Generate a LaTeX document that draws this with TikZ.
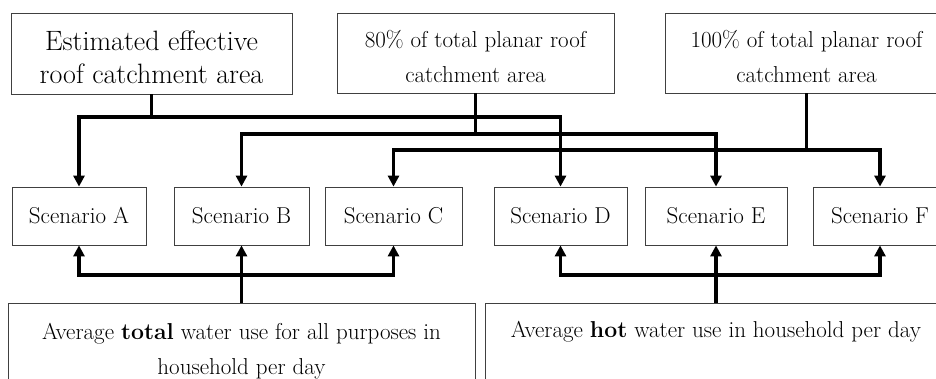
\documentclass[tikz,border=0pt]{standalone}
\usetikzlibrary{arrows.meta}
\begin{document}
\begin{tikzpicture}[x=1pt,y=-1pt,
  frame/.style={draw=black!75, line width=0.8pt, inner sep=0pt, rectangle},
  txt/.style={inner sep=0pt, align=center, font=\fontsize{23}{35}\selectfont},
  bigtxt/.style={inner sep=0pt, align=center, font=\fontsize{28}{33}\selectfont},
  conn/.style={line width=3.5pt, line join=miter},
  arr/.style={conn, -{Triangle[width=11pt,length=11pt]}}]
\path[use as bounding box] (0,0) rectangle (936,378);
\clip (0,0) rectangle (936,378);
% top boxes
\node[frame, minimum width=281pt, minimum height=81pt] (t1) at (151.5,53.5) {};
\node[frame, minimum width=277pt, minimum height=80pt] (t2) at (475.5,53) {};
\node[frame, minimum width=283pt, minimum height=80pt] (t3) at (806.5,53) {};
\node[bigtxt, anchor=north] (t1txt) at (151.5,30.8) {Estimated effective\\roof catchment area};
\node[txt, anchor=north] (t2txt) at (475.5,29.8) {80\% of total planar roof\\catchment area};
\node[txt, anchor=north] (t3txt) at (806.5,29.8) {100\% of total planar roof\\catchment area};
% scenarios
\node[frame, txt, minimum width=134pt, minimum height=58pt] (A) at (79,216) {Scenario A};
\node[frame, txt, minimum width=135pt, minimum height=58pt] (B) at (241.5,216) {Scenario B};
\node[frame, txt, minimum width=137pt, minimum height=58pt] (C) at (393.5,216) {Scenario C};
\node[frame, txt, minimum width=133pt, minimum height=58pt] (D) at (560.5,216) {Scenario D};
\node[frame, txt, minimum width=142pt, minimum height=58pt] (E) at (716,216) {Scenario E};
\node[frame, txt, minimum width=134pt, minimum height=58pt] (F) at (880,216) {Scenario F};
% bottom boxes
\node[frame, minimum width=467pt, minimum height=107pt] (L) at (241.5,356.5) {};
\node[frame, minimum width=462pt, minimum height=107pt] (R) at (716,356.5) {};
\node[txt, anchor=north] (Ltxt) at (241.5,323) {Average \textbf{total} water use for all purposes in\\household per day};
\node[txt, anchor=north] (Rtxt) at (716,321) {Average \textbf{hot} water use in household per day};
% top connectors
\coordinate (j1) at (151.5,117);
\coordinate (j2) at (475.5,134);
\coordinate (j3) at (806.5,150);
\draw[conn] (t1.south) -- (j1);
\draw[arr] (j1) -| (A.north);
\draw[arr] (j1) -| (D.north);
\draw[conn] (t2.south) -- (j2);
\draw[arr] (j2) -| (B.north);
\draw[arr] (j2) -| (E.north);
\draw[conn] (t3.south) -- (j3);
\draw[arr] (j3) -| (C.north);
\draw[arr] (j3) -| (F.north);
% bottom connectors
\coordinate (j4) at (241.5,275);
\coordinate (j5) at (716,275);
\draw[arr] (L.north) -- (B.south);
\draw[arr] (j4) -| (A.south);
\draw[arr] (j4) -| (C.south);
\draw[arr] (R.north) -- (E.south);
\draw[arr] (j5) -| (D.south);
\draw[arr] (j5) -| (F.south);
\end{tikzpicture}
\end{document}
